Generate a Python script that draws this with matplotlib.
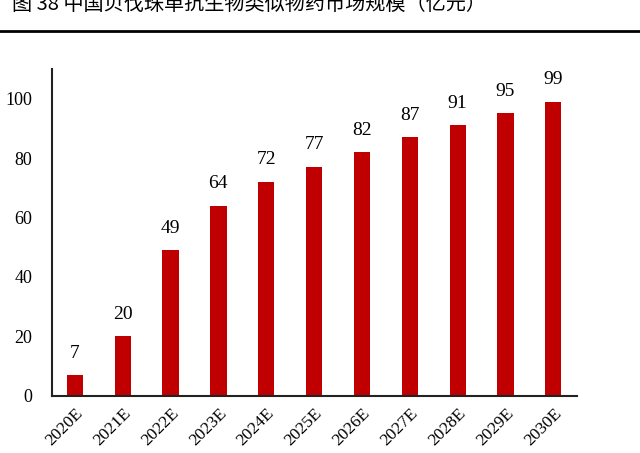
import matplotlib
matplotlib.use("Agg")
import matplotlib.pyplot as plt

years = ["2020E", "2021E", "2022E", "2023E", "2024E", "2025E",
         "2026E", "2027E", "2028E", "2029E", "2030E"]
values = [7, 20, 49, 64, 72, 77, 82, 87, 91, 95, 99]
title = "图 38 中国贝伐珠单抗生物类似物药市场规模（亿元）"

plt.rcParams["font.family"] = ["Liberation Serif", "Noto Sans CJK SC"]

fig = plt.figure(figsize=(6.4, 4.53), dpi=100)
ax = fig.add_axes([0.081, 0.126, 0.821, 0.722])

x = range(len(years))
ax.bar(x, values, width=0.34, color="#C00000")
for i, v in zip(x, values):
    ax.text(i, v + 7.4, str(v), ha="center", va="center", fontsize=14)

ax.set_xlim(-0.48, len(years) - 0.5)
ax.set_ylim(0, 110)
ax.set_yticks(range(0, 101, 20))
ax.set_xticks(list(x))
ax.set_xticklabels(years, rotation=45, ha="right", rotation_mode="anchor")
ax.tick_params(axis="y", length=0, labelsize=13, pad=14)
ax.tick_params(axis="x", length=0, labelsize=12.5, pad=7)
for s in ["top", "right"]:
    ax.spines[s].set_visible(False)
for s in ["left", "bottom"]:
    ax.spines[s].set_linewidth(1.5)
    ax.spines[s].set_color("#222222")

fig.text(0.018, 0.989, title, fontsize=14.5, va="center", ha="left",
         family=["Noto Sans CJK SC", "DejaVu Sans"])
fig.add_artist(plt.Line2D([0, 1], [0.932, 0.932], color="black", lw=2))

fig.savefig("out.png", dpi=100)
